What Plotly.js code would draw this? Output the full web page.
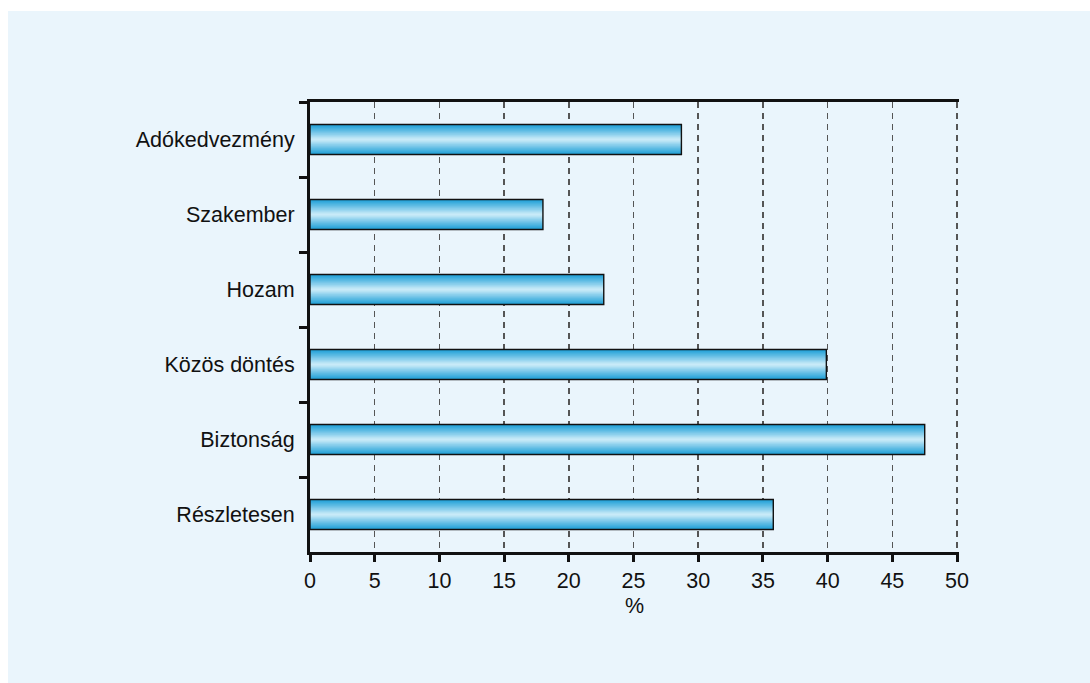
<!DOCTYPE html>
<html>
<head>
<meta charset="utf-8">
<script src="https://cdn.plot.ly/plotly-3.0.1.min.js"></script>
<style>
  html, body { margin: 0; padding: 0; background: #ffffff; }
  #chart { position: absolute; left: 8px; top: 11px; width: 1082px; height: 672px; }
</style>
</head>
<body>
<div id="chart"></div>
<script>
// Data (top to bottom)
const categories = ["Adókedvezmény", "Szakember", "Hozam", "Közös döntés", "Biztonság", "Részletesen"];
const values = [28.7, 18.0, 22.7, 39.9, 47.5, 35.8];
const xTicks = [0, 5, 10, 15, 20, 25, 30, 35, 40, 45, 50];
const xTitle = "%";

// Gradient simulation: overlaid bars of decreasing width, lighter toward the middle
const barWidth = 0.4;
const nLayers = 14;
const dark = [36, 162, 216];
const light = [200, 234, 248];
function mix(t) {
  const c = dark.map((d, i) => Math.round(d + (light[i] - d) * t));
  return `rgb(${c[0]},${c[1]},${c[2]})`;
}
const traces = [];
for (let i = 0; i < nLayers; i++) {
  const t = i / (nLayers - 1);
  const w = barWidth * (1 - i / nLayers);
  traces.push({
    type: 'bar',
    orientation: 'h',
    x: values,
    y: categories,
    width: categories.map(() => w),
    marker: { color: mix(Math.pow(t, 1.1)), line: { width: 0 } },
    hoverinfo: 'skip',
    showlegend: false
  });
}
// Outline on top
traces.push({
  type: 'bar',
  orientation: 'h',
  x: values,
  y: categories,
  width: categories.map(() => barWidth),
  marker: { color: 'rgba(0,0,0,0)', line: { width: 1.4, color: '#111' } },
  showlegend: false
});

const font = { family: 'Arial, "Liberation Sans", Helvetica, sans-serif', size: 21.5, color: '#111' };

const layout = {
  paper_bgcolor: '#eaf5fc',
  plot_bgcolor: 'rgba(0,0,0,0)',
  barmode: 'overlay',
  margin: { l: 302, r: 131, t: 91, b: 131 },
  font: font,
  xaxis: {
    range: [0, 50.15],
    tickvals: xTicks,
    ticktext: xTicks.map(String),
    showline: true, linecolor: '#111', linewidth: 3, mirror: true,
    ticks: 'outside', ticklen: 7, tickwidth: 3, tickcolor: '#111',
    showgrid: true, gridcolor: '#555', griddash: '6px,5px', gridwidth: 1.5,
    zeroline: false,
    tickfont: font,
    title: { text: xTitle, font: font, standoff: 7 },
    fixedrange: true
  },
  yaxis: {
    type: 'category',
    categoryorder: 'array',
    categoryarray: categories,
    range: [5.5, -0.5],
    showline: true, linecolor: '#111', linewidth: 3, mirror: false,
    ticks: 'outside', tickson: 'boundaries', ticklen: 8, tickwidth: 3, tickcolor: '#111',
    showgrid: false, zeroline: false,
    tickfont: font,
    ticklabelstandoff: 8,
    fixedrange: true
  }
};

Plotly.newPlot('chart', traces, layout, { displayModeBar: false, staticPlot: true });
</script>
</body>
</html>
